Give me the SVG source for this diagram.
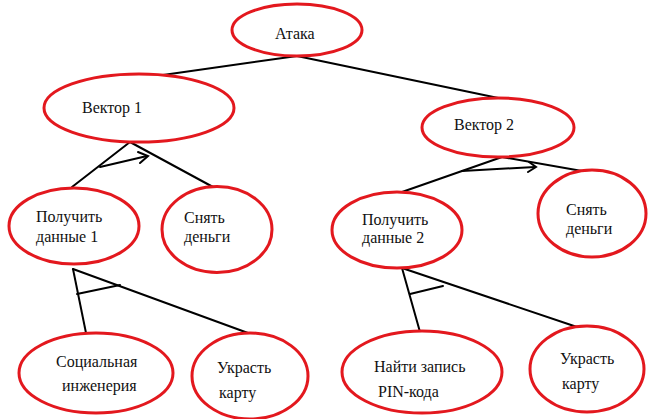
<svg xmlns="http://www.w3.org/2000/svg" width="648" height="419" viewBox="0 0 648 419">
<style>
.n ellipse{fill:#fff;stroke:#e3181e;stroke-width:3}
.n text{font-family:"Liberation Serif","Times New Roman","DejaVu Serif",serif;font-size:16px;fill:#111}
#edges line,#edges path{stroke:#000;stroke-width:2;fill:none;stroke-linecap:round}
</style>
<rect width="648" height="419" fill="#fff"/>
<g id="edges">
<line x1="297" y1="56" x2="163" y2="75"/>
<line x1="297" y1="56" x2="503" y2="99"/>
<line x1="130" y1="142" x2="72" y2="187"/>
<line x1="130" y1="142" x2="213" y2="187"/>
<line x1="100" y1="167" x2="147" y2="156"/>
<path d="M138 152 L148 156 L140 163"/>
<line x1="502" y1="157" x2="402" y2="192"/>
<line x1="502" y1="157" x2="582" y2="171"/>
<line x1="462" y1="171" x2="535" y2="167"/>
<path d="M529 162 L536 167 L528 172"/>
<line x1="73" y1="269" x2="86" y2="333"/>
<line x1="73" y1="269" x2="248" y2="333"/>
<line x1="77" y1="294" x2="120" y2="285"/>
<line x1="402" y1="268" x2="420" y2="332"/>
<line x1="402" y1="268" x2="580" y2="328"/>
<line x1="410" y1="294" x2="443" y2="286"/>
</g>
<g id="n-ataka" class="n"><ellipse cx="297" cy="30" rx="65" ry="26"/><text x="275" y="39">Атака</text></g>
<g id="n-vector1" class="n"><ellipse cx="139" cy="108" rx="95" ry="34"/><text x="82" y="113">Вектор 1</text></g>
<g id="n-vector2" class="n"><ellipse cx="498" cy="127.5" rx="76" ry="29.5"/><text x="454" y="130">Вектор 2</text></g>
<g id="n-data1" class="n"><ellipse cx="74" cy="226" rx="65" ry="38"/><text x="36" y="222">Получить</text><text x="36" y="242">данные 1</text></g>
<g id="n-cash1" class="n"><ellipse cx="217" cy="229.5" rx="55" ry="43"/><text x="184" y="223">Снять</text><text x="184" y="242">деньги</text></g>
<g id="n-data2" class="n"><ellipse cx="397" cy="230" rx="65" ry="38"/><text x="362" y="225">Получить</text><text x="362" y="243">данные 2</text></g>
<g id="n-cash2" class="n"><ellipse cx="592" cy="213.5" rx="54" ry="43.5"/><text x="566" y="215">Снять</text><text x="566" y="234">деньги</text></g>
<g id="n-social" class="n"><ellipse cx="96" cy="373" rx="77" ry="40"/><text x="56" y="367">Социальная</text><text x="62" y="391">инженерия</text></g>
<g id="n-steal1" class="n"><ellipse cx="250" cy="376" rx="58" ry="43"/><text x="217" y="373">Украсть</text><text x="219" y="398">карту</text></g>
<g id="n-pin" class="n"><ellipse cx="422" cy="372" rx="80" ry="41"/><text x="374" y="372">Найти запись</text><text x="378" y="397">PIN-кода</text></g>
<g id="n-steal2" class="n"><ellipse cx="587" cy="369" rx="57" ry="43"/><text x="560" y="364">Украсть</text><text x="562" y="389">карту</text></g>
</svg>
